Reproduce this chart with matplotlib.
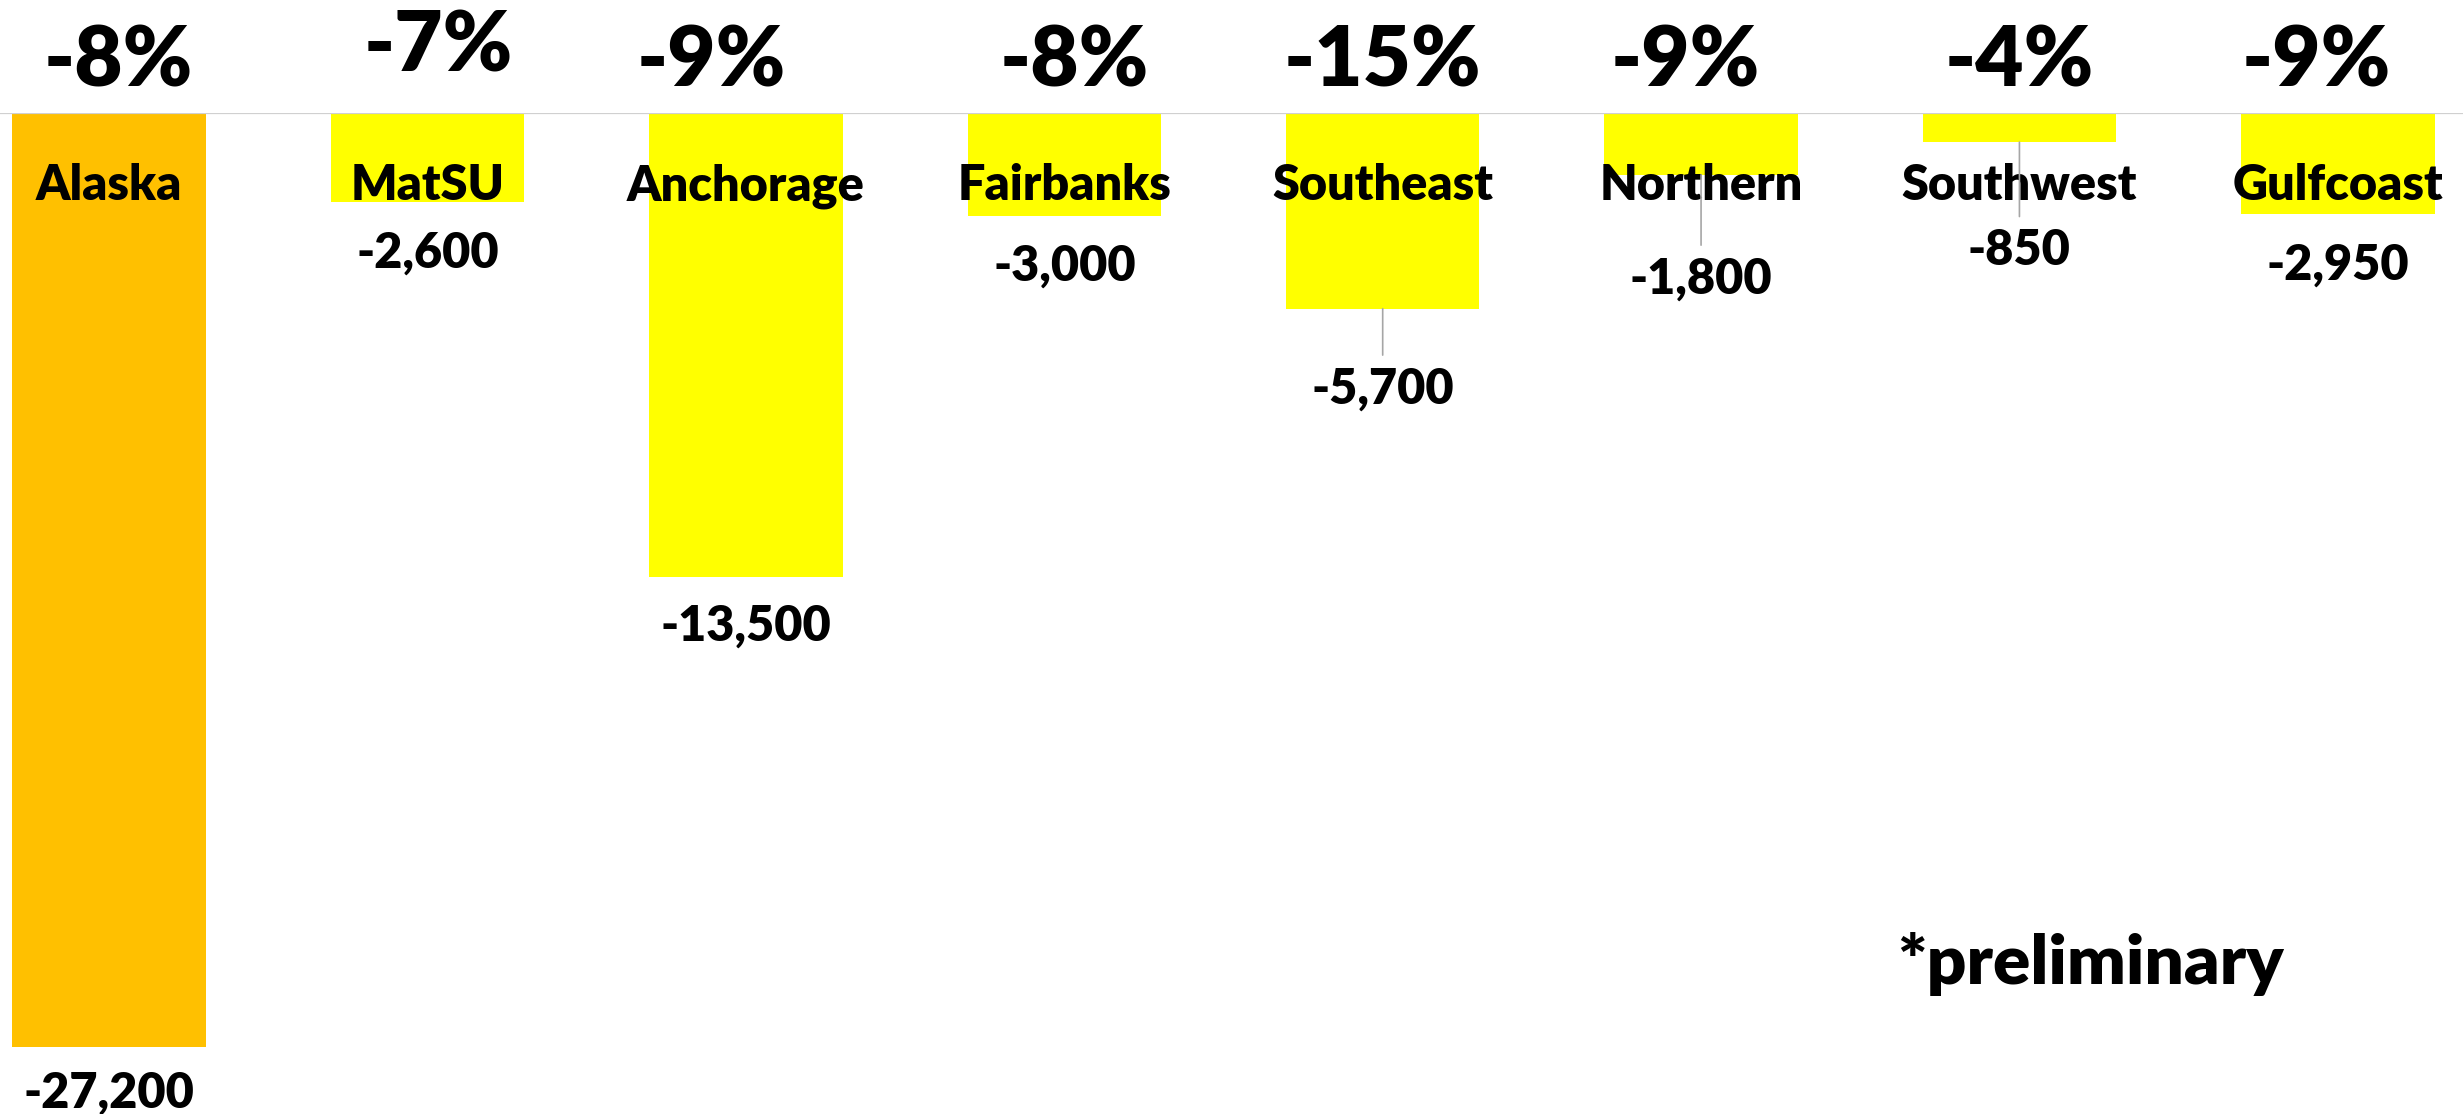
import matplotlib
matplotlib.use("Agg")
import matplotlib.pyplot as plt

# ---- data ----
regions = ["Alaska", "MatSU", "Anchorage", "Fairbanks", "Southeast", "Northern", "Southwest", "Gulfcoast"]
changes = [-27200, -2600, -13500, -3000, -5700, -1800, -850, -2950]
value_labels = ["-27,200", "-2,600", "-13,500", "-3,000", "-5,700", "-1,800", "-850", "-2,950"]
pct_labels = ["-8%", "-7%", "-9%", "-8%", "-15%", "-9%", "-4%", "-9%"]
note = "*preliminary"

# ---- styling / placement ----
bar_colors = ["#FFC000"] + ["#FFFF00"] * 7
value_offset_px = [46, 51, 50, 50, 80, 104, 108, 51]
leader = [False, False, False, False, True, True, True, False]
pct_dx = [0.03, 0.035, -0.11, 0.03, 0.0, -0.05, 0.0, -0.066]
pct_y = [1480, 1920, 1480, 1480, 1480, 1480, 1480, 1480]

FONT = "Lato"
WEIGHT = "heavy"
W, H = 2463, 1114
fig = plt.figure(figsize=(W / 100, H / 100), dpi=100)
ax = fig.add_axes([-50 / W, 0.0046, 2547 / W, 0.894])
ax.set_xlim(-0.5, len(regions) - 0.5)
ax.set_ylim(-29000, 0)
ax.axis("off")

x = list(range(len(regions)))
ax.bar(x, changes, width=0.608, color=bar_colors, zorder=2)
ax.axhline(0, color="#D0D0D0", lw=1.6, zorder=3)

for i, (name, v, vl, pl) in enumerate(zip(regions, changes, value_labels, pct_labels)):
    # category label
    ax.text(i, -2120, name, ha="center", va="center", fontsize=35,
            fontweight=WEIGHT, family=FONT, zorder=5)
    # value label
    kw = {}
    if leader[i]:
        kw["arrowprops"] = dict(arrowstyle="-", color="#A6A6A6", lw=1.2,
                                shrinkA=6, shrinkB=0)
    ax.annotate(vl, xy=(i, v), xytext=(0, -value_offset_px[i]),
                textcoords="offset pixels", ha="center", va="center",
                fontsize=35, fontweight=WEIGHT, family=FONT, zorder=5,
                annotation_clip=False, **kw)
    # percent label
    ax.text(i + pct_dx[i], pct_y[i], pl, ha="center", va="center",
            fontsize=60, fontweight=WEIGHT, family=FONT, clip_on=False, zorder=5)

fig.text(2090 / W, 1 - 964 / H, note, ha="center", va="center",
         fontsize=50, fontweight=WEIGHT, family=FONT)

fig.savefig("out.png", dpi=100, facecolor="white")
